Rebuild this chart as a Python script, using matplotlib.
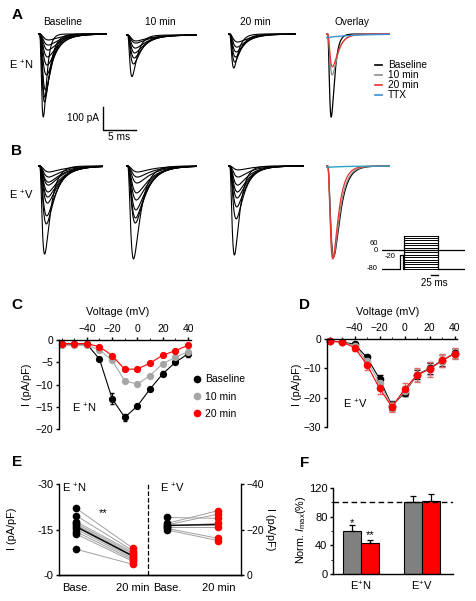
import numpy as np
import matplotlib.pyplot as plt
from matplotlib.lines import Line2D

plt.rcParams['font.family'] = ['Liberation Sans', 'DejaVu Sans']
plt.rcParams['mathtext.fontset'] = 'custom'
plt.rcParams['mathtext.rm'] = 'Liberation Sans'
plt.rcParams['mathtext.it'] = 'Liberation Sans:italic'
plt.rcParams['font.size'] = 7.5
plt.rcParams['axes.linewidth'] = 1.0
plt.rcParams['xtick.major.width'] = 1.0
plt.rcParams['ytick.major.width'] = 1.0
plt.rcParams['xtick.major.size'] = 2.5
plt.rcParams['ytick.major.size'] = 2.5
plt.rcParams['xtick.major.pad'] = 1.5
plt.rcParams['ytick.major.pad'] = 1.5

# ---- data ----
# peak amplitudes (pA) of the current families
A_base_amp = [361, 296, 274, 243, 178, 135, 100, 70, 48, 26]
A_10_amp = [181, 126, 100, 78, 57, 35, 26]
A_20_amp = [148, 122, 100, 78, 57, 35]
B_base_amp = [383, 252, 217, 161, 135, 113, 83, 70, 48, 26]
B_10_amp = [404, 248, 226, 191, 148, 117, 74, 48, 26]
B_20_amp = [387, 230, 178, 139, 113, 83, 48, 17]
A_overlay_amp = [361, 178, 143, 16]   # baseline, 10 min, 20 min, TTX
B_overlay_amp = [395, 398, 404, 6]

# protocol
step_mV = [-80, -70, -60, -50, -40, -30, -20, -10, 0, 10, 20, 30, 40, 50, 60]

# I-V curves
volt = [-60, -50, -40, -30, -20, -10, 0, 10, 20, 30, 40]
C_base = [-0.9, -0.9, -0.9, -4.3, -13.2, -17.4, -14.8, -11.0, -7.6, -5.0, -3.1]
C_base_err = [0.2, 0.2, 0.2, 0.4, 1.2, 0.7, 0.5, 0.4, 0.6, 0.4, 0.7]
C_10 = [-1.2, -1.2, -1.2, -2.2, -4.6, -9.2, -9.9, -8.0, -5.3, -3.9, -2.6]
C_10_err = [0.2, 0.2, 0.2, 0.3, 0.4, 0.5, 0.4, 0.4, 0.4, 0.3, 0.3]
C_20 = [-0.8, -0.8, -0.8, -1.5, -3.5, -6.6, -6.5, -5.2, -3.4, -2.4, -1.2]
C_20_err = [0.2, 0.2, 0.2, 0.2, 0.3, 0.4, 0.3, 0.3, 0.3, 0.3, 0.3]

D_base = [-0.7, -1.0, -1.8, -6.3, -13.6, -22.8, -18.3, -12.2, -10.0, -7.4, -4.9]
D_base_err = [0.3, 0.3, 0.5, 0.8, 1.3, 1.5, 1.2, 1.5, 1.8, 1.8, 1.5]
D_10 = [-0.8, -1.0, -2.3, -7.5, -15.0, -23.0, -17.8, -12.3, -10.2, -7.4, -5.0]
D_10_err = [0.3, 0.4, 0.8, 1.2, 1.6, 1.6, 1.8, 2.0, 2.2, 2.0, 1.6]
D_20 = [-0.8, -1.0, -2.9, -8.8, -16.8, -23.2, -17.1, -12.3, -10.3, -7.3, -5.0]
D_20_err = [0.3, 0.4, 1.2, 1.8, 2.0, 1.8, 2.2, 2.5, 2.5, 2.3, 1.8]

# paired cells
EN_base = [-22.0, -19.6, -17.6, -17.0, -16.5, -15.7, -15.1, -14.3, -13.5, -8.5]
EN_20 = [-8.8, -8.0, -7.5, -7.0, -6.5, -6.0, -5.5, -5.0, -4.5, -3.5]
EV_base = [-25.3, -22.7, -22.0, -21.5, -21.0, -20.5, -19.8]
EV_20 = [-24.9, -28.3, -26.8, -22.7, -21.0, -16.1, -15.1]

# normalised Imax
F_groups = ['E$^{+}$N', 'E$^{+}$V']
F_10 = [60.5, 101]
F_10_err = [7.5, 8]
F_20 = [43.4, 102.5]
F_20_err = [4, 9.5]

W, H = 476, 601
fig = plt.figure(figsize=(W / 100, H / 100), dpi=100)


def px_axes(x0, y0, x1, y1):
    return fig.add_axes([x0 / W, 1 - y1 / H, (x1 - x0) / W, (y1 - y0) / H])


def ftext(x, y, s, **kw):
    kw.setdefault('ha', 'center')
    kw.setdefault('va', 'center')
    fig.text(x / W, 1 - y / H, s, **kw)


PX_MS = 6.6   # pixels per ms
PX_PA = 0.23  # pixels per pA


def na_trace(t, amp, tm, th, delay=0.25):
    tt = np.clip(t - delay, 0, None)
    g = (1 - np.exp(-tt / tm)) ** 3 * np.exp(-tt / th)
    return -amp * g / g.max()


def trace_axes(x0, x1, ybase):
    ax = px_axes(x0, ybase - 10, x1, ybase + 100)
    T = (x1 - x0) / PX_MS
    ax.set_xlim(0, T)
    ax.set_ylim(-100 / PX_PA, 10 / PX_PA)
    ax.axis('off')
    return ax, np.linspace(0, T, 800)


def family(x0, x1, ybase, amps, tm, th_fast, th_slow):
    ax, t = trace_axes(x0, x1, ybase)
    amax = max(amps)
    for a in amps:
        f = a / amax
        th = th_fast + (th_slow - th_fast) * (1 - f)
        ax.plot(t, na_trace(t, a, tm + 0.2 * (1 - f), th), color='k', lw=0.8)
    return ax


LET = dict(fontsize=11, fontweight='bold')

# ---- A ----
ftext(17, 15, 'A', **LET)
for x, s in zip([63, 160, 255, 352], ['Baseline', '10 min', '20 min', 'Overlay']):
    ftext(x, 22, s, fontsize=7.3)
ftext(21, 65, 'E $^{+}$N', fontsize=8)
axA = family(38, 107, 34, A_base_amp, 0.35, 0.45, 2.2)
family(126, 197, 35, A_10_amp, 0.3, 0.8, 2.5)
family(228, 296, 34, A_20_amp, 0.3, 0.7, 2.5)
axo, t = trace_axes(326, 390, 34)
ov_cols = ['k', '#8c8c8c', '#e8352e']
ov_th = [0.45, 0.8, 0.9]
for a, c, th in zip(A_overlay_amp[:3], ov_cols, ov_th):
    axo.plot(t, na_trace(t, a, 0.33, th), color=c, lw=0.9)
axo.plot(t, -A_overlay_amp[3] * np.exp(-t / 4.0), color='#3c8fcf', lw=1.0)
hand = [Line2D([], [], color=c, lw=1.2) for c in ov_cols + ['#3c8fcf']]
fig.legend(hand, ['Baseline', '10 min', '20 min', 'TTX'], loc='upper left',
           bbox_to_anchor=(370 / W, 1 - 55 / H), frameon=False, fontsize=7.3,
           handlelength=0.7, handletextpad=0.6, labelspacing=0.0, borderpad=0)

# scale bar
axA.plot([9.85, 9.85, 14.85], [-317, -417, -417], color='k', lw=1.0, clip_on=False)
ftext(99, 118, '100 pA', ha='right', fontsize=7.3)
ftext(119, 137, '5 ms', fontsize=7.3)

# ---- B ----
ftext(17, 151, 'B', **LET)
ftext(21, 195, 'E $^{+}$V', fontsize=8)
family(38, 103, 166, B_base_amp, 0.35, 0.9, 2.5)
family(126, 197, 166, B_10_amp, 0.4, 1.1, 2.5)
family(228, 304, 166, B_20_amp, 0.35, 0.8, 2.0)
axo, t = trace_axes(326, 390, 166)
for a, c, th, tm in zip(B_overlay_amp[:3], ['k', '#8c8c8c', '#e8352e'], [1.0, 0.95, 0.85], [0.45, 0.42, 0.38]):
    axo.plot(t, na_trace(t, a, tm, th), color=c, lw=0.9)
axo.plot(t, -B_overlay_amp[3] * np.exp(-t / 3.0), color='#2aa3c4', lw=1.0)

# voltage protocol inset
axp = px_axes(382, 230, 465, 290)
axp.set_xlim(0, 296)
axp.set_ylim(-40 / 0.241, 20 / 0.241)
axp.axis('off')
axp.plot([0, 296], [0, 0], color='k', lw=0.9)
axp.plot([0, 64, 64, 74, 74, 78], [-80, -80, -20, -20, -80, -80], color='k', lw=0.9)
axp.plot([200, 296], [-80, -80], color='k', lw=0.9)
for v in step_mV:
    axp.plot([78, 200], [v, v], color='k', lw=0.7)
axp.plot([78, 78], [-80, 60], color='k', lw=0.9)
axp.plot([200, 200], [-80, 60], color='k', lw=0.9)
axp.plot([175, 200], [-104, -104], color='k', lw=1.0, clip_on=False)
ftext(378, 243.5, '60', ha='right', fontsize=5.5)
ftext(378, 250, '0', ha='right', fontsize=5.5)
ftext(385, 256, '-20', ha='left', fontsize=5.5)
ftext(378, 269, '-80', ha='right', fontsize=5.5)
ftext(434, 283, '25 ms', fontsize=7)


# ---- C / D ----
def iv_axes(x0, x1, y0, y1, ylim, yticks):
    ax = px_axes(x0, y0, x1, y1)
    ax.set_xlim(-62, 42)
    ax.set_ylim(*ylim)
    ax.xaxis.tick_top()
    ax.spines['bottom'].set_visible(False)
    ax.spines['right'].set_visible(False)
    ax.spines['top'].set_position(('data', 0))
    ax.set_xticks([-40, -20, 0, 20, 40])
    ax.set_xticks(volt, minor=True)
    ax.tick_params(axis='x', which='minor', length=1.5, top=True, bottom=False)
    ax.set_yticks(yticks)
    ax.tick_params(labelsize=7.5)
    return ax


ftext(17, 305, 'C', **LET)
axC = iv_axes(59, 190.6, 340, 429, (-20, 0), [0, -5, -10, -15, -20])
for y, e, c in [(C_base, C_base_err, 'k'), (C_10, C_10_err, '#a6a6a6'), (C_20, C_20_err, '#ff0000')]:
    axC.errorbar(volt, y, yerr=e, color=c, marker='o', ms=4.2, lw=0.8,
                 capsize=1.5, elinewidth=0.8, clip_on=False)
ftext(118, 312, 'Voltage (mV)', fontsize=7.8)
ftext(27, 385, 'I (pA/pF)', fontsize=7.8, rotation=90)
ftext(84, 408, 'E $^{+}$N', fontsize=8)
hC = [Line2D([], [], color=c, marker='o', ls='none', ms=4.5) for c in ['k', '#a6a6a6', '#ff0000']]
axC.legend(hC, ['Baseline', '10 min', '20 min'], loc='upper left',
           bbox_to_anchor=(188 / W, 1 - 369 / H), bbox_transform=fig.transFigure,
           frameon=False, fontsize=7.5, handlelength=0.8, handletextpad=0.3,
           labelspacing=0.7, borderpad=0)

ftext(305, 305, 'D', **LET)
axD = iv_axes(327, 457, 339, 427, (-30, 0), [0, -10, -20, -30])
for y, e, c, ec in [(D_base, D_base_err, 'k', 'k'), (D_10, D_10_err, '#a6a6a6', '#b0b0b0'),
                    (D_20, D_20_err, '#ff0000', '#e06a6a')]:
    axD.errorbar(volt, y, yerr=e, color=c, ecolor=ec, marker='o', ms=4.5, lw=0.8,
                 capsize=2, elinewidth=0.8, clip_on=False)
ftext(388, 312, 'Voltage (mV)', fontsize=7.8)
ftext(297, 385, 'I (pA/pF)', fontsize=7.8, rotation=90)
ftext(355, 404, 'E $^{+}$V', fontsize=8)

# ---- E ----
ftext(17, 462, 'E', **LET)
axE = px_axes(59, 484, 241, 575)
axE.set_xlim(-0.3, 2.9)
axE.set_ylim(0, -30)
axE.set_yticks([-30, -15, 0], ['-30', '-15', '-0'])
axE.spines['top'].set_visible(False)
axE.spines['right'].set_visible(False)
axE.set_xticks([0, 1, 1.6, 2.5], ['Base.', '20 min', 'Base.', '20 min'])
axE.tick_params(axis='x', length=0, pad=6, labelsize=8)
axE.tick_params(axis='y', labelsize=8)
axE2 = axE.twinx()
axE2.set_ylim(0, -40)
axE2.set_yticks([-40, -20, 0])
axE2.spines['top'].set_visible(False)
axE2.spines['left'].set_visible(False)
axE2.tick_params(axis='y', labelsize=7.5)
for b, a in zip(EN_base, EN_20):
    axE.plot([0, 1], [b, a], color='#a0a0a0', lw=0.7, zorder=1)
axE.plot([0, 1], [np.mean(EN_base), np.mean(EN_20)], color='k', lw=1.0, zorder=2)
axE.plot([0] * len(EN_base), EN_base, 'o', color='k', ms=4.5, zorder=3)
axE.plot([1] * len(EN_20), EN_20, 'o', color='#ff0000', ms=4.5, zorder=3)
for b, a in zip(EV_base, EV_20):
    axE2.plot([1.6, 2.5], [b, a], color='#a0a0a0', lw=0.7, zorder=1)
axE2.plot([1.6, 2.5], [np.mean(EV_base), np.mean(EV_20)], color='k', lw=1.0, zorder=2)
axE2.plot([1.6] * len(EV_base), EV_base, 'o', color='k', ms=4.5, zorder=3)
axE2.plot([2.5] * len(EV_20), EV_20, 'o', color='#ff0000', ms=4.5, zorder=3)
axE.axvline(1.26, color='k', ls='--', lw=0.9)
ftext(103, 513, '**', fontsize=8)
ftext(74, 488, 'E $^{+}$N', fontsize=8)
ftext(172, 488, 'E $^{+}$V', fontsize=8)
ftext(12, 529, 'I (pA/pF)', fontsize=7.8, rotation=90)
ftext(270, 529, 'I (pA/pF)', fontsize=7.8, rotation=270)

# ---- F ----
ftext(305, 463, 'F', **LET)
axF = px_axes(333, 488, 453, 574)
xF = np.arange(len(F_groups))
bw = 0.295
axF.bar(xF - bw / 2, F_10, bw, color='#808080', edgecolor='k', lw=0.8,
        yerr=[np.zeros(2), F_10_err], capsize=2.5, error_kw=dict(lw=0.9, capthick=0.9))
axF.bar(xF + bw / 2, F_20, bw, color='#ff0000', edgecolor='k', lw=0.8,
        yerr=[np.zeros(2), F_20_err], capsize=2.5, error_kw=dict(lw=0.9, capthick=0.9))
axF.axhline(100, color='k', ls='--', lw=1.0, dashes=(4, 2.5))
axF.set_xlim(-0.46, 1.51)
axF.set_ylim(0, 120)
axF.set_yticks([0, 40, 80, 120])
axF.set_yticks([20, 60, 100], minor=True)
axF.tick_params(axis='y', which='minor', length=1.5)
axF.set_xticks(xF, F_groups)
axF.tick_params(axis='x', length=0, pad=4, labelsize=8)
axF.tick_params(axis='y', labelsize=8)
axF.spines['top'].set_visible(False)
axF.spines['right'].set_visible(False)
ftext(352, 523, '*', fontsize=8)
ftext(370, 535, '**', fontsize=8)
ftext(301, 530, 'Norm. $\\mathit{I}_{\\mathrm{max}}$(%)', fontsize=7.8, rotation=90)

fig.savefig('out.png', dpi=100)
